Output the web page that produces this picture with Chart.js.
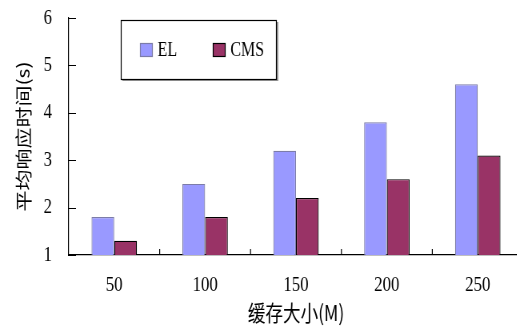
<!DOCTYPE html>
<html>
<head>
<meta charset="utf-8">
<script src="https://cdn.jsdelivr.net/npm/chart.js@4.4.1/dist/chart.umd.min.js"></script>
<style>
    html, body { margin: 0; padding: 0; background: #fff; overflow: hidden; }
    /* drawn 660 wide, shown 528 wide: text and marks come out narrow, like the Excel export */
    #chart { display: block; width: 528px; height: 326px; }
</style>
</head>
<body>
<canvas id="chart" width="660" height="326" style="width:528px;height:326px"></canvas>
<script>
// Cache size (M) vs. average response time (s)
const cacheSizes = ['50', '100', '150', '200', '250'];
const elTimes = [1.8, 2.5, 3.2, 3.8, 4.6];
const cmsTimes = [1.3, 1.8, 2.2, 2.6, 3.1];
const yTicks = [1, 2, 3, 4, 5, 6];

const serif = '"Liberation Serif", "DejaVu Serif", serif';
const cjk = '"Noto Sans CJK SC", sans-serif';

// Inward tick marks plus the boxed legend inside the plot
const decorations = {
    id: 'decorations',
    afterDraw(chart) {
        const ctx = chart.ctx;
        const area = chart.chartArea;
        const x = chart.scales.x;
        const y = chart.scales.y;
        ctx.save();
        ctx.strokeStyle = '#000';
        ctx.lineWidth = 1.2;
        ctx.beginPath();
        yTicks.forEach(v => {
            const py = Math.round(y.getPixelForValue(v)) + 0.5;
            ctx.moveTo(area.left, py);
            ctx.lineTo(area.left + 9, py);
        });
        for (let i = 1; i < cacheSizes.length; i++) {
            const px = (x.getPixelForValue(i - 1) + x.getPixelForValue(i)) / 2;
            ctx.moveTo(px, area.bottom);
            ctx.lineTo(px, area.bottom - 6);
        }
        ctx.stroke();

        // legend box with a soft shadow on the right and bottom
        ctx.fillStyle = '#9a9a9a';
        ctx.fillRect(153, 79, 194, 2);
        ctx.fillRect(346, 22, 2, 59);
        ctx.fillStyle = '#fff';
        ctx.fillRect(151, 20, 195, 60);
        ctx.lineWidth = 1.2;
        ctx.strokeStyle = '#000';
        ctx.strokeRect(151.5, 20.5, 194, 59);

        const items = [
            { x: 175, ds: chart.data.datasets[0] },
            { x: 266, ds: chart.data.datasets[1] }
        ];
        ctx.font = '20px ' + serif;
        ctx.textBaseline = 'middle';
        items.forEach(it => {
            ctx.fillStyle = it.ds.backgroundColor;
            ctx.fillRect(it.x, 43, 16, 14);
            ctx.strokeStyle = it.ds.borderColor;
            ctx.strokeRect(it.x + 0.5, 43.5, 15, 13);
            ctx.fillStyle = '#000';
            ctx.fillText(it.ds.label, it.x + 22, 51);
        });
        ctx.restore();
    }
};

new Chart(document.getElementById('chart'), {
    type: 'bar',
    data: {
        labels: cacheSizes,
        datasets: [
            {
                label: 'EL',
                data: elTimes,
                backgroundColor: '#9999ff',
                borderColor: '#7c7ca8',
                borderWidth: 1.2,
                borderSkipped: 'bottom'
            },
            {
                label: 'CMS',
                data: cmsTimes,
                backgroundColor: '#993366',
                borderColor: '#000',
                borderWidth: 1.2,
                borderSkipped: 'bottom'
            }
        ]
    },
    options: {
        responsive: false,
        animation: false,
        layout: { padding: { top: 18, right: 6, left: 0, bottom: 0 } },
        datasets: { bar: { categoryPercentage: 0.5, barPercentage: 1.0 } },
        plugins: {
            legend: { display: false },
            tooltip: { enabled: false }
        },
        scales: {
            x: {
                grid: { display: false, drawTicks: false },
                border: { display: true, color: '#000', width: 1.2 },
                ticks: { color: '#000', padding: 18, font: { family: serif, size: 21 } },
                title: {
                    display: true,
                    text: '缓存大小(M)',
                    color: '#000',
                    font: { family: cjk, size: 22 },
                    padding: { top: 0, bottom: 0 }
                },
                afterFit(scale) {
                    scale.height = 71;
                    scale.paddingLeft = 0;
                    scale.paddingRight = 0;
                }
            },
            y: {
                min: 1,
                max: 6,
                afterBuildTicks(scale) { scale.ticks = yTicks.map(v => ({ value: v })); },
                grid: { display: false, drawTicks: false },
                border: { display: true, color: '#000', width: 1.2 },
                ticks: { color: '#000', padding: 21, font: { family: serif, size: 21 } },
                title: {
                    display: true,
                    text: '平均响应时间(s)',
                    color: '#000',
                    font: { family: cjk, size: 21 },
                    padding: { top: 16, bottom: 0 }
                },
                afterFit(scale) {
                    scale.width = 86;
                    scale.paddingTop = 0;
                    scale.paddingBottom = 0;
                }
            }
        }
    },
    plugins: [decorations]
});
</script>
</body>
</html>
